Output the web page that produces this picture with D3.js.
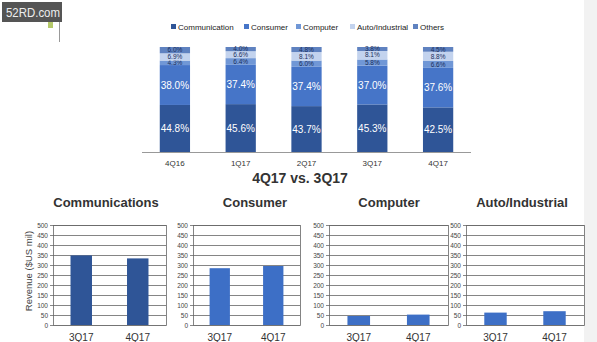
<!DOCTYPE html>
<html>
<head>
<meta charset="utf-8">
<script src="https://cdn.jsdelivr.net/npm/d3@7"></script>
<style>
  body { margin: 0; background: #fff; }
  svg { display: block; font-family: "Liberation Sans", Arial, sans-serif; }
</style>
</head>
<body>
<div id="chart"></div>
<script>
// top chart: revenue mix by quarter (%)
var quarters = ["4Q16", "1Q17", "2Q17", "3Q17", "4Q17"]
var segments = ["Communication", "Consumer", "Computer", "Auto/Industrial", "Others"]
var communication = [44.8, 45.6, 43.7, 45.3, 42.5]
var consumer = [38.0, 37.4, 37.4, 37.0, 37.6]
var computer = [4.3, 6.4, 6.0, 5.8, 6.6]
var autoIndustrial = [6.9, 6.6, 8.1, 8.1, 8.8]
var others = [6.0, 4.0, 4.8, 3.8, 4.5]

// bottom panels: revenue ($US mil)
var compareQuarters = ["3Q17", "4Q17"]
var panelTitles = ["Communications", "Consumer", "Computer", "Auto/Industrial"]
var revCommunications = [348, 333]
var revConsumer = [284, 295]
var revComputer = [45, 52]
var revAuto = [62, 69]
var revTicks = [0, 50, 100, 150, 200, 250, 300, 350, 400, 450, 500]

var width = 597, height = 342

var svg = d3.select("#chart").append("svg")
  .attr("width", width)
  .attr("height", height)

// light strip on the right edge
svg.append("rect").attr("x", 584).attr("y", 0).attr("width", 13).attr("height", height).attr("fill", "#f2f2f2")

// watermark
svg.append("rect").attr("x", 2).attr("y", 2).attr("width", 60).attr("height", 20).attr("fill", "#555")
svg.append("text").attr("x", 6).attr("y", 17).text("52RD.com")
  .attr("textLength", 54).attr("lengthAdjust", "spacingAndGlyphs")
  .style("font-size", "13px").attr("fill", "#eee")
svg.append("rect").attr("x", 48).attr("y", 22).attr("width", 5).attr("height", 6).attr("fill", "#b5c96a")
svg.append("line").attr("x1", 59.5).attr("x2", 59.5).attr("y1", 22).attr("y2", 42).attr("stroke", "#999")

// ---------- stacked percent chart ----------
var colors = ["#2f5597", "#4675c8", "#7097d6", "#c3d3ee", "#5f82c0"]
var labelColors = ["#fff", "#fff", "#1b2f5c", "#1b2f5c", "#1b2f5c"]

var rows = quarters.map(function(q, i) {
  return {
    quarter: q,
    "Communication": communication[i],
    "Consumer": consumer[i],
    "Computer": computer[i],
    "Auto/Industrial": autoIndustrial[i],
    "Others": others[i]
  }
})

var x = d3.scaleBand().domain(quarters).range([142, 471]).paddingInner(0.54).paddingOuter(0.27)
var y = d3.scaleLinear().domain([0, 100]).range([152, 47])

var stack = d3.stack().keys(segments)(rows)

var layers = svg.selectAll("g.layer")
  .data(stack)
  .enter().append("g")
  .attr("class", "layer")
  .attr("fill", function(d, i) { return colors[i] })

layers.selectAll("rect")
  .data(function(d) { return d })
  .enter().append("rect")
  .attr("x", function(d) { return x(d.data.quarter) })
  .attr("width", x.bandwidth())
  .attr("y", function(d) { return y(d[1]) })
  .attr("height", function(d) { return y(d[0]) - y(d[1]) })

layers.each(function(layer, li) {
  d3.select(this).selectAll("text")
    .data(layer)
    .enter().append("text")
    .attr("x", function(d) { return x(d.data.quarter) + x.bandwidth() / 2 })
    .attr("y", function(d) { return (y(d[0]) + y(d[1])) / 2 })
    .attr("dy", li < 2 ? "0.36em" : "0.34em")
    .attr("text-anchor", "middle")
    .attr("fill", labelColors[li])
    .style("font-size", li < 2 ? "10px" : "6.5px")
    .text(function(d) { return (d[1] - d[0]).toFixed(1) + "%" })
})

// baseline + quarter labels
svg.append("line").attr("x1", 142).attr("x2", 471).attr("y1", 152.5).attr("y2", 152.5)
  .attr("stroke", "#999").attr("stroke-width", 1)
svg.append("g").selectAll("text")
  .data(quarters).enter().append("text")
  .attr("x", function(d) { return x(d) + x.bandwidth() / 2 })
  .attr("y", 166)
  .attr("text-anchor", "middle")
  .style("font-size", "8px")
  .attr("fill", "#333")
  .text(function(d) { return d })

// legend
var legendX = [171, 244, 296, 350, 413]
var legend = svg.append("g").selectAll("g")
  .data(segments).enter().append("g")
  .attr("transform", function(d, i) { return "translate(" + legendX[i] + ",27)" })
legend.append("rect").attr("x", 0).attr("y", -3).attr("width", 5).attr("height", 5)
  .attr("fill", function(d, i) { return colors[i] })
legend.append("text").attr("x", 7).attr("y", 2.5)
  .style("font-size", "8px").attr("fill", "#222")
  .text(function(d) { return d })

svg.append("text").attr("x", 300).attr("y", 183).attr("text-anchor", "middle")
  .style("font-size", "14px").style("font-weight", "bold").attr("fill", "#333")
  .text("4Q17 vs. 3Q17")

// ---------- revenue panels ----------
var panels = [
  { title: panelTitles[0], values: revCommunications, x0: 53, x1: 166, color: "#2f5597", tx: 106 },
  { title: panelTitles[1], values: revConsumer, x0: 193, x1: 300, color: "#3d6fc6", tx: 255 },
  { title: panelTitles[2], values: revComputer, x0: 329, x1: 448, color: "#3d6fc6", tx: 389 },
  { title: panelTitles[3], values: revAuto, x0: 466, x1: 584, color: "#3d6fc6", tx: 522 }
]

var py = d3.scaleLinear().domain([0, 500]).range([325, 225])

panels.forEach(function(p) {
  var g = svg.append("g")
  var bx = d3.scaleBand().domain(compareQuarters).range([p.x0, p.x1]).paddingInner(0.62).paddingOuter(0.31)

  g.append("text").attr("x", p.tx).attr("y", 207).attr("text-anchor", "middle")
    .style("font-size", "13px").style("font-weight", "bold").attr("fill", "#333")
    .text(p.title)

  // gridlines
  g.selectAll("line.grid").data(revTicks).enter().append("line")
    .attr("x1", p.x0).attr("x2", p.x1)
    .attr("y1", function(d) { return Math.round(py(d)) + 0.5 })
    .attr("y2", function(d) { return Math.round(py(d)) + 0.5 })
    .attr("stroke", function(d) { return d == 0 ? "#999" : "#666" })
    .attr("stroke-width", 0.8)

  g.append("rect").attr("x", p.x0 + 0.5).attr("y", py(500) + 0.5)
    .attr("width", p.x1 - p.x0).attr("height", py(0) - py(500))
    .attr("fill", "none").attr("stroke", "#666").attr("stroke-width", 0.8)

  var yAxis = d3.axisLeft(py).tickValues(revTicks).tickSize(3).tickPadding(2)
  var ax = g.append("g").attr("transform", "translate(" + p.x0 + ",0)").call(yAxis)
  ax.select(".domain").remove()
  ax.selectAll("line").attr("stroke", "#888")
  ax.selectAll("text").style("font-size", "6.5px").attr("fill", "#444")
    .style("font-family", "'Liberation Sans', Arial, sans-serif")

  g.selectAll("rect.bar").data(p.values).enter().append("rect")
    .attr("class", "bar")
    .attr("x", function(d, i) { return bx(compareQuarters[i]) })
    .attr("width", bx.bandwidth())
    .attr("y", function(d) { return py(d) })
    .attr("height", function(d) { return py(0) - py(d) })
    .attr("fill", p.color)

  g.selectAll("text.cat").data(compareQuarters).enter().append("text")
    .attr("class", "cat")
    .attr("x", function(d) { return bx(d) + bx.bandwidth() / 2 })
    .attr("y", 341)
    .attr("text-anchor", "middle")
    .style("font-size", "10px").attr("fill", "#333")
    .text(function(d) { return d })
})

svg.append("text")
  .attr("transform", "translate(32,271) rotate(-90)")
  .attr("text-anchor", "middle")
  .style("font-size", "9.5px").attr("fill", "#444")
  .text("Revenue ($US mil)")
</script>
</body>
</html>
